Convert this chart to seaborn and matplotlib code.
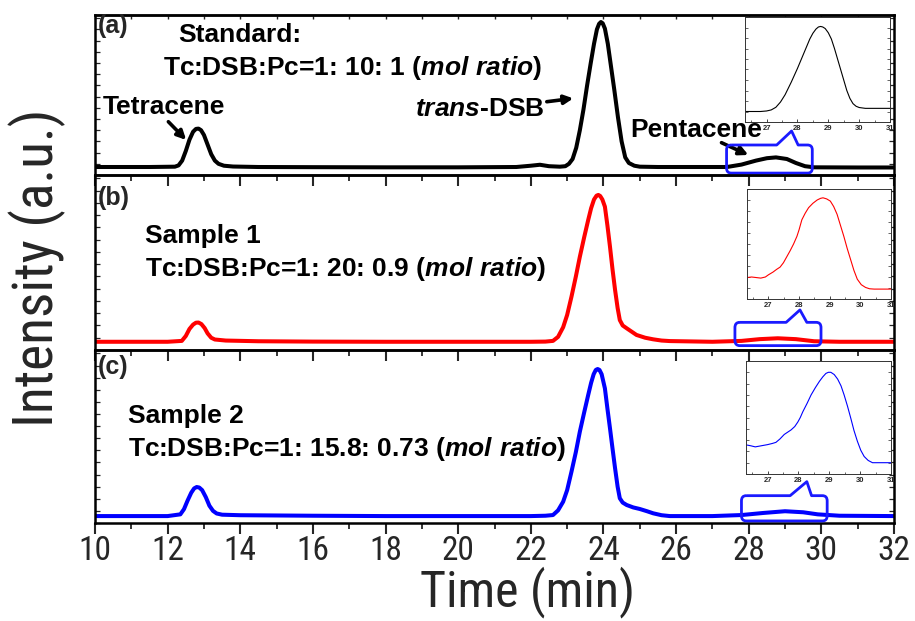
import matplotlib
matplotlib.use('Agg')
import matplotlib.pyplot as plt
import seaborn as sns
from matplotlib import font_manager as fm
from matplotlib.path import Path
from matplotlib.patches import PathPatch
from matplotlib.ticker import MultipleLocator, NullFormatter

# ---------------- data ----------------
time_a = [10.0, 11.5, 12.2, 12.3, 12.4, 12.5, 12.6, 12.7, 12.78, 12.85,
          12.92, 13.0, 13.1, 13.2, 13.3, 13.4, 13.55, 13.8, 14.5, 16,
          18, 20, 21.6, 22.0, 22.25, 22.5, 22.8, 22.95, 23.05, 23.15,
          23.25, 23.35, 23.45, 23.55, 23.65, 23.74, 23.82, 23.88, 23.93, 23.98,
          24.04, 24.12, 24.21, 24.30, 24.40, 24.50, 24.60, 24.70, 24.85, 25.0,
          25.5, 26.5, 27.4, 27.8, 28.2, 28.5, 28.75, 29.05, 29.3, 29.55,
          29.8, 31, 32]
int_a = [0.05, 0.05, 0.052, 0.06, 0.09, 0.15, 0.22, 0.27, 0.288, 0.29,
         0.28, 0.25, 0.19, 0.13, 0.09, 0.07, 0.058, 0.053, 0.05, 0.049,
         0.048, 0.048, 0.05, 0.058, 0.064, 0.055, 0.052, 0.055, 0.07, 0.10,
         0.17, 0.28, 0.41, 0.56, 0.70, 0.82, 0.91, 0.945, 0.956, 0.948,
         0.915, 0.82, 0.675, 0.53, 0.36, 0.21, 0.11, 0.075, 0.058, 0.052,
         0.05, 0.05, 0.05, 0.065, 0.09, 0.105, 0.11, 0.10, 0.075, 0.055,
         0.048, 0.047, 0.047]

time_b = [10.0, 12.0, 12.39, 12.5, 12.6, 12.7, 12.78, 12.85, 12.93, 13.02,
          13.1, 13.2, 13.3, 13.6, 14.5, 16, 18, 20, 22.0, 22.4,
          22.61, 22.75, 22.89, 23.0, 23.12, 23.24, 23.35, 23.47, 23.58, 23.66,
          23.74, 23.81, 23.86, 23.91, 23.97, 24.04, 24.11, 24.18, 24.25, 24.32,
          24.39, 24.45, 24.53, 24.64, 24.91, 25.15, 25.37, 25.6, 25.83, 27.0,
          27.8, 28.3, 28.8, 29.3, 29.8, 30.5, 32]
int_b = [0.047, 0.047, 0.052, 0.08, 0.12, 0.145, 0.156, 0.157, 0.148, 0.125,
         0.095, 0.07, 0.06, 0.054, 0.05, 0.048, 0.047, 0.047, 0.047, 0.048,
         0.052, 0.075, 0.13, 0.20, 0.305, 0.42, 0.533, 0.645, 0.743, 0.81,
         0.86, 0.882, 0.886, 0.88, 0.86, 0.819, 0.71, 0.59, 0.46, 0.343,
         0.24, 0.171, 0.14, 0.124, 0.086, 0.07, 0.061, 0.054, 0.051, 0.047,
         0.052, 0.062, 0.067, 0.062, 0.05, 0.047, 0.047]

time_c = [10.0, 12.0, 12.35, 12.45, 12.55, 12.65, 12.73, 12.8, 12.87, 12.95,
          13.05, 13.15, 13.25, 13.35, 13.5, 14.0, 16, 18, 20, 22.0,
          22.4, 22.61, 22.75, 22.89, 23.0, 23.12, 23.24, 23.35, 23.47, 23.58,
          23.66, 23.73, 23.79, 23.84, 23.89, 23.95, 24.04, 24.11, 24.18, 24.25,
          24.32, 24.39, 24.45, 24.53, 24.64, 24.82, 25.0, 25.2, 25.37, 25.6,
          25.83, 27.0, 27.8, 28.4, 29.0, 29.5, 29.9, 30.5, 32]
int_c = [0.04, 0.04, 0.05, 0.08, 0.13, 0.175, 0.20, 0.208, 0.205, 0.19,
         0.15, 0.10, 0.07, 0.055, 0.048, 0.045, 0.042, 0.04, 0.04, 0.04,
         0.042, 0.046, 0.073, 0.123, 0.19, 0.297, 0.41, 0.528, 0.64, 0.74,
         0.81, 0.86, 0.885, 0.89, 0.885, 0.86, 0.778, 0.66, 0.547, 0.43,
         0.316, 0.21, 0.143, 0.118, 0.104, 0.09, 0.081, 0.068, 0.056, 0.045,
         0.04, 0.04, 0.046, 0.058, 0.068, 0.062, 0.05, 0.042, 0.04]

inset_a_t = [26.3, 26.8, 27.0, 27.15, 27.3, 27.45, 27.6, 27.7, 27.8, 27.9,
             28.0, 28.1, 28.2, 28.3, 28.4, 28.5, 28.6, 28.68, 28.75, 28.82,
             28.9, 29.0, 29.1, 29.2, 29.3, 29.4, 29.5, 29.6, 29.7, 29.8,
             29.9, 30.0, 30.2, 31.0]
inset_a_i = [0.10, 0.10, 0.105, 0.115, 0.14, 0.19, 0.26, 0.32, 0.38, 0.445,
             0.51, 0.58, 0.65, 0.72, 0.79, 0.845, 0.885, 0.905, 0.91, 0.905,
             0.89, 0.85, 0.79, 0.70, 0.60, 0.50, 0.40, 0.30, 0.225, 0.175,
             0.15, 0.138, 0.13, 0.13]

inset_b_t = [26.3, 26.45, 26.6, 26.75, 26.9, 27.0, 27.15, 27.27, 27.38, 27.49,
             27.6, 27.71, 27.82, 27.93, 28.0, 28.09, 28.2, 28.31, 28.45, 28.59,
             28.7, 28.78, 28.9, 29.02, 29.13, 29.24, 29.35, 29.46, 29.57, 29.68,
             29.79, 29.9, 30.03, 30.17, 30.3, 30.45, 31.0]
inset_b_i = [0.195, 0.20, 0.195, 0.19, 0.20, 0.22, 0.245, 0.27, 0.29, 0.33,
             0.385, 0.44, 0.50, 0.57, 0.63, 0.72, 0.78, 0.83, 0.87, 0.90,
             0.915, 0.92, 0.91, 0.89, 0.84, 0.77, 0.67, 0.57, 0.46, 0.36,
             0.26, 0.18, 0.13, 0.105, 0.093, 0.09, 0.09]

inset_c_t = [26.26, 26.45, 26.6, 26.8, 27.0, 27.15, 27.27, 27.4, 27.54, 27.65,
             27.76, 27.88, 27.98, 28.06, 28.14, 28.28, 28.41, 28.55, 28.68, 28.79,
             28.89, 28.97, 29.05, 29.16, 29.27, 29.38, 29.48, 29.59, 29.7, 29.8,
             29.91, 30.02, 30.13, 30.26, 30.4, 31.0]
inset_c_i = [0.26, 0.25, 0.24, 0.25, 0.26, 0.27, 0.28, 0.31, 0.35, 0.37,
             0.39, 0.42, 0.46, 0.50, 0.55, 0.625, 0.70, 0.765, 0.82, 0.86,
             0.89, 0.90, 0.90, 0.88, 0.84, 0.78, 0.70, 0.60, 0.49, 0.385,
             0.29, 0.21, 0.155, 0.12, 0.10, 0.10]

x_ticks = [10, 12, 14, 16, 18, 20, 22, 24, 26, 28, 30, 32]
inset_ticks = [27, 28, 29, 30, 31]
panel_tags = ['(a)', '(b)', '(c)']
titles = ['Standard:', 'Sample 1', 'Sample 2']
ratios = ['Tc:DSB:Pc=1: 10: 1', 'Tc:DSB:Pc=1: 20: 0.9', 'Tc:DSB:Pc=1: 15.8: 0.73']
colors = ['#000000', '#ff0000', '#0000ff']

# ---------------- style ----------------
sns.set_style('ticks')
names = {f.name for f in fm.fontManager.ttflist}
BASE = 'Liberation Sans' if 'Liberation Sans' in names else 'DejaVu Sans'
NARROW = next((n for n in ['Liberation Sans Narrow', 'Arial Narrow', 'Roboto Condensed',
                           'DejaVu Sans Condensed', 'Open Sans Condensed'] if n in names), BASE)
plt.rcParams['font.family'] = [BASE, 'DejaVu Sans']
plt.rcParams['mathtext.fontset'] = 'custom'
plt.rcParams['mathtext.rm'] = BASE + ':bold'
plt.rcParams['mathtext.bf'] = BASE + ':bold'
plt.rcParams['mathtext.it'] = BASE + ':bold:italic'

fig = plt.figure(figsize=(9.15, 6.21), dpi=100)
L, W = 95 / 915, 799 / 915
panel_rects = [(1 - 175 / 621, 160 / 621), (1 - 350 / 621, 175 / 621), (1 - 523 / 621, 173 / 621)]
axes = [fig.add_axes([L, b, W, h]) for b, h in panel_rects]

series = [(time_a, int_a), (time_b, int_b), (time_c, int_c)]
for k, (ax, (t, y)) in enumerate(zip(axes, series)):
    sns.lineplot(x=t, y=y, ax=ax, color=colors[k], lw=2.9, estimator=None, sort=False)
    ax.set_xlim(10, 32)
    ax.set_ylim(0, 1)
    ax.set_xlabel('')
    ax.set_ylabel('')
    ax.set_xticks(x_ticks)
    ax.xaxis.set_minor_locator(MultipleLocator(1))
    ax.yaxis.set_major_locator(MultipleLocator(0.07))
    ax.yaxis.set_major_formatter(NullFormatter())
    ax.tick_params(axis='x', which='major', direction='out', length=8, width=1.5,
                   labelsize=24, pad=1, bottom=True, top=False)
    ax.tick_params(axis='x', which='minor', direction='out', length=4, width=1.3,
                   bottom=True, top=False)
    ax.tick_params(axis='y', which='both', direction='in', length=3.5, width=0.9,
                   left=True, right=True)
    for s in ax.spines.values():
        s.set_visible(True)
        s.set_linewidth(1.8)
        s.set_color('black')
    if k < 2:
        ax.tick_params(axis='x', labelbottom=False)
    else:
        for lab in ax.get_xticklabels():
            lab.set_fontfamily([NARROW, 'DejaVu Sans'])
    ax.patch.set_alpha(0)

# top ticks of the first panel
sec = axes[0].secondary_xaxis('top')
sec.set_xticks(x_ticks)
sec.xaxis.set_minor_locator(MultipleLocator(1))
sec.tick_params(which='both', direction='in', length=3, width=1, labeltop=False)
sec.spines['top'].set_linewidth(1.8)

# ---------------- texts ----------------
bold = dict(fontsize=19, fontweight='bold', color='black')
tag_y = [0.89, 0.83, 0.86]
title_pos = [(178, 0.831), (145, 0.611), (128, 0.578)]
ratio_pos = [(163, 0.625), (145, 0.423), (128, 0.387)]
for k, ax in enumerate(axes):
    ax.text(0.003, tag_y[k], panel_tags[k], transform=ax.transAxes, ha='left', va='baseline',
            fontsize=18, fontweight='bold')
    xp, yp = title_pos[k]
    ax.text((xp - 95) / 799, yp, titles[k], transform=ax.transAxes, ha='left', va='baseline', **bold)
    xp, yp = ratio_pos[k]
    ax.text((xp - 95) / 799, yp, ratios[k] + r' ($\mathit{mol\ ratio}$)', transform=ax.transAxes,
            ha='left', va='baseline', **bold)

ax0 = axes[0]
ax0.text(10.22, 0.38, 'Tetracene', ha='left', va='baseline', **bold)
ax0.text(18.81, 0.37, r'$\mathit{trans}$-DSB', ha='left', va='baseline', **bold)
ax0.text(24.75, 0.235, 'Pentacene', ha='left', va='baseline', **bold)

arrow = dict(arrowstyle='-|>', color='black', lw=2.6, mutation_scale=13, shrinkA=0, shrinkB=0)
ax0.annotate('', xy=(12.51, 0.219), xytext=(12.02, 0.333), arrowprops=arrow)
ax0.annotate('', xy=(23.17, 0.479), xytext=(22.44, 0.458), arrowprops=arrow)
ax0.annotate('', xy=(27.99, 0.125), xytext=(27.25, 0.202), arrowprops=arrow)

# ---------------- call-out boxes ----------------
def callout(ax, x0, x1, y0, y1, n0, na, ya, n1, rx=0.13, ry=0.03):
    verts = [(x0 + rx, y1), (n0, y1), (na, ya), (n1, y1), (x1 - rx, y1),
             (x1, y1), (x1, y1 - ry), (x1, y0 + ry), (x1, y0), (x1 - rx, y0),
             (x0 + rx, y0), (x0, y0), (x0, y0 + ry), (x0, y1 - ry), (x0, y1), (x0 + rx, y1)]
    codes = [Path.MOVETO, Path.LINETO, Path.LINETO, Path.LINETO, Path.LINETO,
             Path.CURVE3, Path.CURVE3, Path.LINETO, Path.CURVE3, Path.CURVE3,
             Path.LINETO, Path.CURVE3, Path.CURVE3, Path.LINETO, Path.CURVE3, Path.CURVE3]
    ax.add_patch(PathPatch(Path(verts, codes), fill=False, ec='#1a1aff', lw=2.0,
                           joinstyle='round', zorder=6, clip_on=False))

callout(axes[0], 27.39, 29.75, 0.012, 0.1875, 28.77, 29.18, 0.275, 29.36)
callout(axes[1], 27.62, 29.99, 0.025, 0.158, 29.03, 29.41, 0.229, 29.60)
callout(axes[2], 27.80, 30.16, 0.012, 0.158, 29.14, 29.60, 0.239, 29.73)

# ---------------- insets ----------------
inset_rects = [[745 / 915, 1 - 122 / 621, 145 / 915, 105 / 621],
               [747 / 915, 1 - 299 / 621, 144 / 915, 110 / 621],
               [746 / 915, 1 - 474 / 621, 145 / 915, 113 / 621]]
inset_data = [(inset_a_t, inset_a_i), (inset_b_t, inset_b_i), (inset_c_t, inset_c_i)]
for k, (rect, (t, y)) in enumerate(zip(inset_rects, inset_data)):
    ia = fig.add_axes(rect)
    ia.set_facecolor('white')
    sns.lineplot(x=t, y=y, ax=ia, color=colors[k], lw=0.8, estimator=None, sort=False)
    ia.set_xlim(26.3, 31.0)
    ia.set_ylim(0, 1)
    ia.set_xlabel('')
    ia.set_ylabel('')
    ia.set_xticks(inset_ticks)
    ia.xaxis.set_minor_locator(MultipleLocator(0.5))
    ia.yaxis.set_major_locator(MultipleLocator(0.1))
    ia.yaxis.set_major_formatter(NullFormatter())
    ia.tick_params(axis='x', which='major', direction='in', length=2.5, width=0.6,
                   labelsize=5.5, pad=2, top=False)
    ia.tick_params(axis='x', which='minor', direction='in', length=1.5, width=0.5, top=False)
    ia.tick_params(axis='y', which='both', direction='in', length=2, width=0.5,
                   left=True, right=True)
    for lab in ia.get_xticklabels():
        lab.set_fontweight('bold')
    for s in ia.spines.values():
        s.set_visible(True)
        s.set_linewidth(0.7)
        s.set_color('#333333')

# ---------------- axis titles ----------------
fig.text(527 / 915, 1 - 606 / 621, 'Time (min)', ha='center', va='baseline', fontsize=36,
         family=[NARROW, 'DejaVu Sans'])
fig.text(37 / 915, 1 - 268 / 621, 'Intensity (a.u.)', ha='center', va='center', rotation=90,
         fontsize=40, family=[NARROW, 'DejaVu Sans'])

fig.savefig('out.png', dpi=100, facecolor='white')
